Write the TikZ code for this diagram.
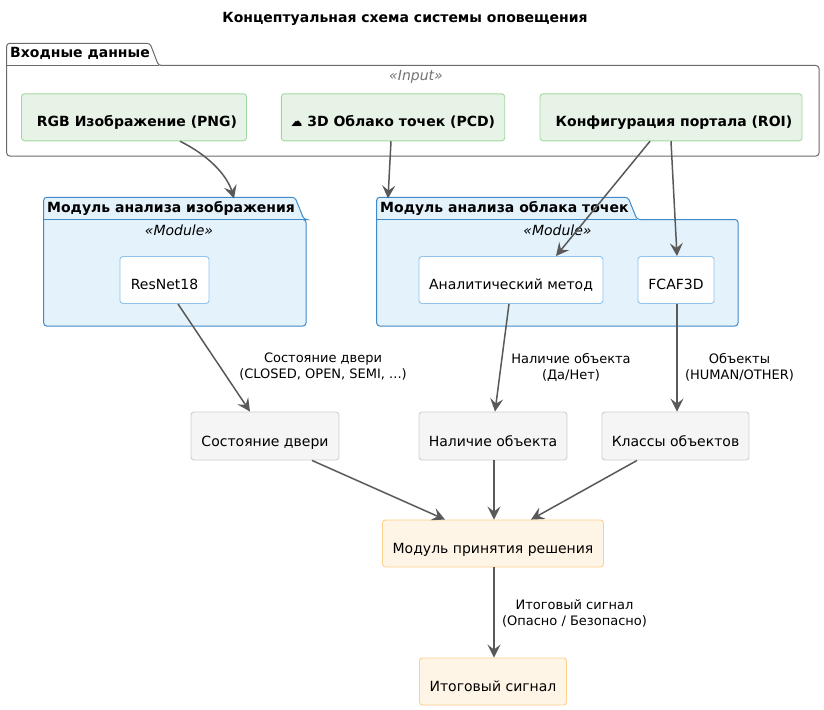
\documentclass[tikz,border=0pt]{standalone}
\usepackage{fontspec}
\setmainfont{DejaVu Sans}
\usetikzlibrary{arrows.meta,calc}
\definecolor{gf}{HTML}{E8F3E8}\definecolor{gd}{HTML}{9FD89F}
\definecolor{bf}{HTML}{E3F2FB}\definecolor{bd}{HTML}{3F8ACB}\definecolor{bl}{HTML}{90C4F0}
\definecolor{sf}{HTML}{F5F5F5}\definecolor{sd}{HTML}{D0D0D0}
\definecolor{of}{HTML}{FFF5E6}\definecolor{od}{HTML}{FFCF8C}
\definecolor{ln}{HTML}{595959}
\tikzset{
 x=1pt,y=-1pt,
 boxs/.style={rounded corners=3pt,line width=.9pt,inner sep=0pt,text height=33pt,text depth=14pt,font=\fontsize{14}{16}\selectfont,text=black},
 inp/.style={boxs,fill=gf,draw=gd,font=\fontsize{14}{16}\selectfont\bfseries},
 inner/.style={boxs,fill=white,draw=bl},
 state/.style={boxs,fill=sf,draw=sd,text height=34pt,text depth=14pt},
 dec/.style={boxs,fill=of,draw=od},
 pkg/.style={line width=1pt,rounded corners=3pt},
 tabt/.style={font=\fontsize{14}{16}\selectfont\bfseries,inner sep=0pt,text=black,anchor=base west},
 stereo/.style={font=\fontsize{14}{16}\selectfont\itshape,inner sep=0pt,anchor=base},
 elabel/.style={font=\fontsize{13}{16}\selectfont,align=center,inner sep=0pt,text=black},
 conn/.style={draw=ln,line width=1.5pt,-{Stealth[length=13pt,width=13pt,inset=5pt]}},
}
\begin{document}
\begin{tikzpicture}
\useasboundingbox (0,0) rectangle (824,709);
\fill[white] (0,0) rectangle (824,709);
\node[font=\fontsize{14}{16}\selectfont\bfseries,inner sep=0pt,anchor=base] (title) at (405,23) {Концептуальная схема системы оповещения};
% packages
\draw[pkg,draw=ln!90,fill=white] (6.7,65.5) -- (6.7,43.3) -- (150,43.3) -- (158.5,65.5) -- (819,65.5) -- (819,156) -- (6.7,156) -- cycle;
\draw[draw=ln!90,line width=1pt] (6.7,65.5) -- (158.5,65.5);
\node[tabt] (tinp) at (10,58) {Входные данные};
\node[stereo,text=black!55] (sinp) at (416,81) {«Input»};
\draw[pkg,draw=bd,fill=bf] (43.7,219.5) -- (43.7,197.3) -- (295,197.3) -- (304,219.5) -- (306,219.5) -- (306,326) -- (43.7,326) -- cycle;
\draw[draw=bd,line width=1pt] (43.7,219.5) -- (304,219.5);
\node[tabt] (timg) at (47,212) {Модуль анализа изображения};
\node[stereo] (simg) at (179,235) {«Module»};
\draw[pkg,draw=bd,fill=bf] (376.7,219.5) -- (376.7,197.3) -- (628,197.3) -- (637,219.5) -- (738,219.5) -- (738,326) -- (376.7,326) -- cycle;
\draw[draw=bd,line width=1pt] (376.7,219.5) -- (637,219.5);
\node[tabt] (tpc) at (380,212) {Модуль анализа облака точек};
\node[stereo] (spc) at (557.5,235) {«Module»};
% boxes
\node[inp,minimum width=225pt] (rgb) at (134,117.3) {\hspace*{6pt}RGB Изображение (PNG)};
\node[inp,minimum width=223.4pt] (cloud) at (393,117.3) {\scalebox{1}[1.3]{\fontsize{11.5}{12}\selectfont ☁} 3D Облако точек (PCD)};
\node[inp,minimum width=262pt] (roi) at (671,117.3) {\hspace*{6pt}Конфигурация портала (ROI)};
\node[inner,minimum width=89pt] (resnet) at (164.5,280) {ResNet18};
\node[inner,minimum width=184pt] (anal) at (511,280) {Аналитический метод};
\node[inner,minimum width=76pt] (fcaf) at (676,280) {FCAF3D};
\node[state,minimum width=148pt] (door) at (265,436) {Состояние двери};
\node[state,minimum width=148pt] (pres) at (493,436) {Наличие объекта};
\node[state,minimum width=147pt] (cls) at (675.5,436) {Классы объектов};
\node[dec,minimum width=221pt] (decm) at (493,543.5) {Модуль принятия решения};
\node[dec,minimum width=147pt] (fin) at (493,681.5) {Итоговый сигнал};
% connectors
\coordinate (aimg) at (234,198.5);
\coordinate (apc) at (388,198.5);
\draw[conn] ([xshift=46pt]rgb.south) .. controls (208,155) and (227,175) .. (aimg);
\draw[conn] ([xshift=-2pt]cloud.south) -- (apc);
\draw[conn] ([xshift=-21pt]roi.south) -- ([xshift=45pt]anal.north);
\draw[conn] (roi.south) -- ([xshift=1pt]fcaf.north);
\draw[conn] ([xshift=13.5pt]resnet.south) -- ([xshift=-15pt]door.north);
\draw[conn] ([xshift=-2pt]anal.south) -- ([xshift=2pt]pres.north);
\draw[conn] ([xshift=1pt]fcaf.south) -- ([xshift=1.5pt]cls.north);
\draw[conn] ([xshift=47pt]door.south) -- ([xshift=-48pt]decm.north);
\draw[conn] ([xshift=1pt]pres.south) -- ([xshift=1pt]decm.north);
\draw[conn] ([xshift=-38.5pt]cls.south) -- ([xshift=38pt]decm.north);
\draw[conn] ([xshift=1pt]decm.south) -- ([xshift=1pt]fin.north);
% edge labels
\node[elabel] (l1) at (323,367) {Состояние двери\\(CLOSED, OPEN, SEMI, ...)};
\node[elabel] (l2) at (571,367) {Наличие объекта\\(Да/Нет)};
\node[elabel] (l3) at (739.5,367) {Объекты\\(HUMAN/OTHER)};
\node[elabel] (l4) at (574.5,613) {Итоговый сигнал\\(Опасно / Безопасно)};
\end{tikzpicture}
\end{document}
